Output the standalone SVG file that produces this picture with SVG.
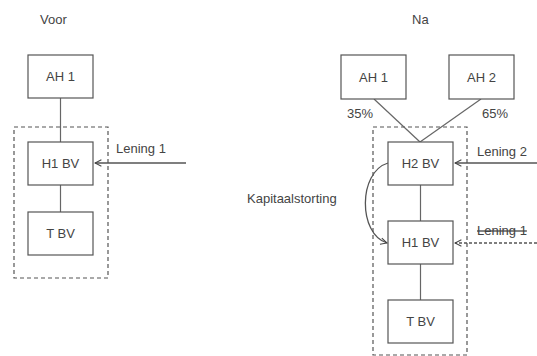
<svg xmlns="http://www.w3.org/2000/svg" width="537" height="356" viewBox="0 0 537 356">
<defs>
<style>
.box{fill:#fff;stroke:#555;stroke-width:1.2}
.grp{fill:none;stroke:#555;stroke-width:1.2;stroke-dasharray:4 3}
.ln{fill:none;stroke:#666;stroke-width:1.2}
.arr{fill:none;stroke:#555;stroke-width:1.3}
.t{font-family:"Liberation Sans",Arial,sans-serif;font-size:13px;fill:#444}
.c{text-anchor:middle}
</style>
<marker id="ahe" viewBox="0 0 10 10" refX="9" refY="5" markerWidth="8" markerHeight="8" orient="auto" markerUnits="userSpaceOnUse">
<path d="M1,1 L9,5 L1,9" fill="none" stroke="#444" stroke-width="1.3"/>
</marker>
</defs>
<rect width="537" height="356" fill="#fff"/>
<text class="t" x="40" y="24">Voor</text>
<text class="t" x="412" y="24">Na</text>
<g id="groups">
<rect class="grp" x="14" y="127" width="94" height="151"/>
<rect class="grp" x="373" y="127" width="94" height="228"/>
</g>
<g id="connectors">
<line class="ln" x1="60.5" y1="98" x2="60.5" y2="142"/>
<line class="ln" x1="60.5" y1="185" x2="60.5" y2="212"/>
<path class="arr" d="M186,163 H95" marker-end="url(#ahe)"/>
<line class="ln" x1="374" y1="99" x2="420" y2="142"/>
<line class="ln" x1="481" y1="99" x2="420" y2="142"/>
<line class="ln" x1="420.5" y1="185" x2="420.5" y2="221"/>
<line class="ln" x1="420.5" y1="264" x2="420.5" y2="300"/>
<path class="arr" d="M537,163 H455" marker-end="url(#ahe)"/>
<path class="arr" d="M537,243 H455" stroke-dasharray="3 2" marker-end="url(#ahe)"/>
<path class="arr" d="M388,163 C358,172 358,234 387,243" stroke="#333" marker-end="url(#ahe)"/>
</g>
<g id="labels">
<text class="t" x="116" y="153">Lening 1</text>
<text class="t" x="477" y="156">Lening 2</text>
<text class="t" x="477" y="235" text-decoration="line-through">Lening 1</text>
<text class="t" x="347" y="118">35%</text>
<text class="t" x="482" y="118">65%</text>
<text class="t" x="247" y="203">Kapitaalstorting</text>
</g>
<g id="node-ah1-voor"><rect class="box" x="28" y="55" width="65" height="43"/><text class="t c" x="60.5" y="81">AH 1</text></g>
<g id="node-h1-voor"><rect class="box" x="28" y="142" width="65" height="43"/><text class="t c" x="60.5" y="168">H1 BV</text></g>
<g id="node-t-voor"><rect class="box" x="28" y="212" width="65" height="43"/><text class="t c" x="60.5" y="238">T BV</text></g>
<g id="node-ah1-na"><rect class="box" x="341" y="55" width="65" height="44"/><text class="t c" x="373.5" y="82">AH 1</text></g>
<g id="node-ah2-na"><rect class="box" x="449" y="55" width="65" height="44"/><text class="t c" x="481.5" y="82">AH 2</text></g>
<g id="node-h2-na"><rect class="box" x="388" y="142" width="65" height="43"/><text class="t c" x="420.5" y="168">H2 BV</text></g>
<g id="node-h1-na"><rect class="box" x="388" y="221" width="65" height="43"/><text class="t c" x="420.5" y="247">H1 BV</text></g>
<g id="node-t-na"><rect class="box" x="388" y="300" width="65" height="43"/><text class="t c" x="420.5" y="326">T BV</text></g>
</svg>
